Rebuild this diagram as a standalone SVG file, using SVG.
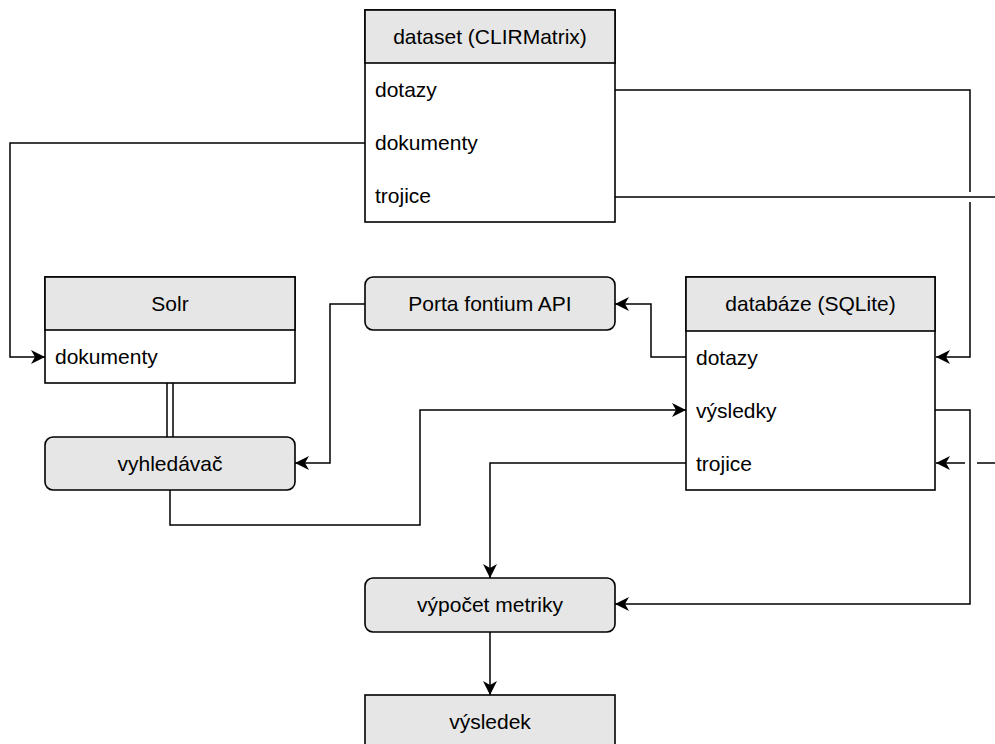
<svg xmlns="http://www.w3.org/2000/svg" width="995" height="744" viewBox="0 0 995 744">
<style>
.box{fill:#fff;stroke:#000;stroke-width:1.6}
.hdr{fill:#e6e6e6;stroke:#000;stroke-width:1.6}
.t{font-family:"Liberation Sans",Arial,sans-serif;font-size:21px;fill:#000}
.c{text-anchor:middle}
.ln{fill:none;stroke:#000;stroke-width:1.5}
</style>
<defs>
<marker id="ah" markerUnits="userSpaceOnUse" markerWidth="15" markerHeight="15" refX="14" refY="7.5" orient="auto">
<path d="M0,0.5 L14,7.5 L0,14.5 L4,7.5 Z" fill="#000"/>
</marker>
</defs>
<g id="connectors">
<path class="ln" d="M615,90 H970 V192 M970,202 V357 H936" marker-end="url(#ah)"/>
<path class="ln" d="M365,143 H10 V357 H45" marker-end="url(#ah)"/>
<path class="ln" d="M615,197 H1010 V463 H977 M965,463 H936" marker-end="url(#ah)"/>
<path class="ln" d="M686,357 H651 V304 H615" marker-end="url(#ah)"/>
<path class="ln" d="M365,304 H330 V463 H295" marker-end="url(#ah)"/>
<path class="ln" d="M167,383 V437 M173,383 V437"/>
<path class="ln" d="M170,490 V525 H420 V410 H686" marker-end="url(#ah)"/>
<path class="ln" d="M935,410 H970 V604 H615" marker-end="url(#ah)"/>
<path class="ln" d="M686,463 H490 V578" marker-end="url(#ah)"/>
<path class="ln" d="M490,632 V695" marker-end="url(#ah)"/>
</g>
<g id="dataset">
<rect class="box" x="365" y="10" width="250" height="212"/>
<rect class="hdr" x="365" y="10" width="250" height="53"/>
<text class="t c" x="490" y="43.5">dataset (CLIRMatrix)</text>
<text class="t" x="375" y="96.5">dotazy</text>
<text class="t" x="375" y="149.5">dokumenty</text>
<text class="t" x="375" y="202.5">trojice</text>
</g>
<g id="solr">
<rect class="box" x="45" y="277" width="250" height="106"/>
<rect class="hdr" x="45" y="277" width="250" height="53"/>
<text class="t c" x="170" y="310.5">Solr</text>
<text class="t" x="55" y="363.5">dokumenty</text>
</g>
<g id="porta">
<rect class="hdr" x="365" y="277" width="250" height="53" rx="8"/>
<text class="t c" x="490" y="310.5">Porta fontium API</text>
</g>
<g id="databaze">
<rect class="box" x="686" y="277" width="249" height="213"/>
<rect class="hdr" x="686" y="277" width="249" height="54"/>
<text class="t c" x="810.5" y="311">databáze (SQLite)</text>
<text class="t" x="696" y="364.5">dotazy</text>
<text class="t" x="696" y="417.5">výsledky</text>
<text class="t" x="696" y="470.5">trojice</text>
</g>
<g id="vyhledavac">
<rect class="hdr" x="45" y="437" width="250" height="53" rx="8"/>
<text class="t c" x="170" y="470.5">vyhledávač</text>
</g>
<g id="vypocet">
<rect class="hdr" x="365" y="578" width="250" height="54" rx="8"/>
<text class="t c" x="490" y="612">výpočet metriky</text>
</g>
<g id="vysledek">
<rect class="hdr" x="365" y="695" width="250" height="60"/>
<text class="t c" x="490" y="729">výsledek</text>
</g>
</svg>
